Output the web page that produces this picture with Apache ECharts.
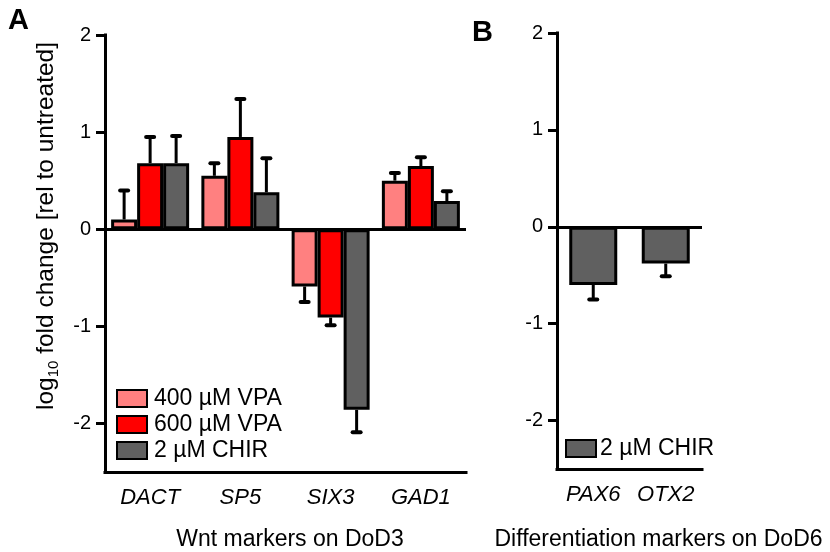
<!DOCTYPE html>
<html>
<head>
<meta charset="utf-8">
<script src="https://cdn.jsdelivr.net/npm/echarts@6/dist/echarts.min.js"></script>
<style>
  html, body { margin: 0; padding: 0; background: #fff; }
  #chart { width: 830px; height: 552px; }
</style>
</head>
<body>
<div id="chart"></div>
<script>
// Panel A: Wnt markers on DoD3 (log10 fold change, mean with one-sided error)
const categoriesA = ['DACT', 'SP5', 'SIX3', 'GAD1'];
const vpa400 = [0.10, 0.55, -0.59, 0.50];
const vpa400Err = [0.30, 0.13, 0.16, 0.08];
const vpa600 = [0.68, 0.95, -0.91, 0.65];
const vpa600Err = [0.27, 0.39, 0.08, 0.09];
const chirA = [0.68, 0.38, -1.86, 0.29];
const chirAErr = [0.28, 0.35, 0.23, 0.10];

// Panel B: differentiation markers on DoD6
const categoriesB = ['PAX6', 'OTX2'];
const chirB = [-0.60, -0.38];
const chirBErr = [0.15, 0.13];

const yTicks = [-2, -1, 0, 1, 2];

const FONT = "'Liberation Sans', Arial, sans-serif";
const PINK = '#FF8080', RED = '#FF0000', GRAY = '#606060';

const chart = echarts.init(document.getElementById('chart'), null, { renderer: 'canvas' });

// error bars point away from zero
function errorData(values, errs) {
  return values.map((v, i) => [i, v, v + Math.sign(v) * errs[i]]);
}

function errorRenderer(offset) {
  return function (params, api) {
    const i = api.value(0);
    const a = api.coord([i, api.value(1)]);
    const b = api.coord([i, api.value(2)]);
    const x = a[0] + offset;
    return {
      type: 'group',
      children: [
        { type: 'line', shape: { x1: x, y1: a[1], x2: x, y2: b[1] },
          style: { stroke: '#000', lineWidth: 3 } },
        { type: 'line', shape: { x1: x - 4, y1: b[1], x2: x + 4, y2: b[1] },
          style: { stroke: '#000', lineWidth: 4, lineCap: 'round' } }
      ]
    };
  };
}

function yAxisDef(gridIndex) {
  return {
    type: 'value', gridIndex, min: -2.5, max: 2,
    axisLine: { show: true, lineStyle: { color: '#000', width: 3, cap: 'square' } },
    axisTick: { show: true, length: 9, customValues: yTicks, lineStyle: { color: '#000', width: 3 } },
    axisLabel: { customValues: yTicks, fontSize: 20, color: '#000', margin: 14, fontFamily: FONT },
    splitLine: { show: false }
  };
}

function xAxisDef(gridIndex, data, name, nameGap, namePad) {
  return {
    type: 'category', gridIndex, data, position: 'bottom',
    axisLine: { onZero: false, lineStyle: { color: '#000', width: 3, cap: 'square' } },
    axisTick: { alignWithLabel: true, length: 9, lineStyle: { color: '#000', width: 3 } },
    axisLabel: { interval: 0, fontStyle: 'italic', fontSize: 22, color: '#000', margin: 15, fontFamily: FONT },
    name, nameLocation: 'middle', nameGap,
    nameTextStyle: { fontSize: 23, color: '#000', fontFamily: FONT, padding: namePad }
  };
}

const zeroLine = {
  silent: true, symbol: ['none', 'none'], label: { show: false },
  lineStyle: { color: '#000', width: 3, type: 'solid' },
  data: [{ yAxis: 0 }]
};

const barStyle = (color) => ({ color, borderColor: '#000', borderWidth: 3 });

const option = {
  animation: false,
  textStyle: { fontFamily: FONT },
  grid: [
    { left: 105, top: 35, width: 361, height: 437, outerBoundsMode: 'none', containLabel: false },
    { left: 557, top: 33, width: 145, height: 436, outerBoundsMode: 'none', containLabel: false }
  ],
  xAxis: [
    xAxisDef(0, categoriesA, 'Wnt markers on DoD3', 56, [0, 0, 0, 9]),
    xAxisDef(1, categoriesB, 'Differentiation markers on DoD6', 59, [0, 0, 0, 58])
  ],
  yAxis: [yAxisDef(0), yAxisDef(1)],
  legend: [
    {
      orient: 'vertical', left: 116, top: 387, padding: 0, itemWidth: 30, itemHeight: 17, itemGap: 3,
      icon: 'rect', data: ['400 µM VPA', '600 µM VPA', '2 µM CHIR'],
      itemStyle: { borderColor: '#000', borderWidth: 2 },
      textStyle: { fontSize: 23, color: '#000', fontFamily: FONT, padding: [0, 0, 0, 2] },
      selectedMode: false
    },
    {
      orient: 'vertical', left: 565, top: 437, padding: 0, itemWidth: 30, itemHeight: 17,
      icon: 'rect', data: ['2 µM CHIR'],
      itemStyle: { borderColor: '#000', borderWidth: 2 },
      textStyle: { fontSize: 23, color: '#000', fontFamily: FONT, padding: [0, 0, 0, -1] },
      selectedMode: false
    }
  ],
  series: [
    { name: '400 µM VPA', type: 'bar', xAxisIndex: 0, yAxisIndex: 0, data: vpa400,
      barWidth: 26, barGap: '0%', itemStyle: barStyle(PINK), z: 3, markLine: zeroLine },
    { name: '600 µM VPA', type: 'bar', xAxisIndex: 0, yAxisIndex: 0, data: vpa600,
      barWidth: 26, barGap: '0%', itemStyle: barStyle(RED), z: 3 },
    { name: '2 µM CHIR', type: 'bar', xAxisIndex: 0, yAxisIndex: 0, data: chirA,
      barWidth: 26, barGap: '0%', itemStyle: barStyle(GRAY), z: 3 },
    { type: 'custom', xAxisIndex: 0, yAxisIndex: 0, z: 2, encode: { x: 0, y: [1, 2] },
      renderItem: errorRenderer(-26), data: errorData(vpa400, vpa400Err) },
    { type: 'custom', xAxisIndex: 0, yAxisIndex: 0, z: 2, encode: { x: 0, y: [1, 2] },
      renderItem: errorRenderer(0), data: errorData(vpa600, vpa600Err) },
    { type: 'custom', xAxisIndex: 0, yAxisIndex: 0, z: 2, encode: { x: 0, y: [1, 2] },
      renderItem: errorRenderer(26), data: errorData(chirA, chirAErr) },

    { name: '2 µM CHIR', type: 'bar', xAxisIndex: 1, yAxisIndex: 1, data: chirB,
      barWidth: 48, itemStyle: barStyle(GRAY), z: 3, markLine: zeroLine },
    { type: 'custom', xAxisIndex: 1, yAxisIndex: 1, z: 2, encode: { x: 0, y: [1, 2] },
      renderItem: errorRenderer(0), data: errorData(chirB, chirBErr) }
  ],
  graphic: [
    { type: 'text', left: 8, top: 6,
      style: { text: 'A', font: "bold 29px 'Liberation Sans', Arial, sans-serif", fill: '#000' } },
    { type: 'text', left: 472, top: 18,
      style: { text: 'B', font: "bold 29px 'Liberation Sans', Arial, sans-serif", fill: '#000' } },
    { type: 'text', x: 46, y: 226, rotation: Math.PI / 2,
      style: {
        text: '{n|log}{s|10}{n| fold change [rel to untreated]}',
        align: 'center', verticalAlign: 'middle', fill: '#000',
        rich: {
          n: { fontSize: 24.5, fontFamily: FONT, lineHeight: 30, fill: '#000' },
          s: { fontSize: 15, fontFamily: FONT, lineHeight: 14, verticalAlign: 'bottom', fill: '#000' }
        }
      } }
  ]
};

chart.setOption(option);
</script>
</body>
</html>
